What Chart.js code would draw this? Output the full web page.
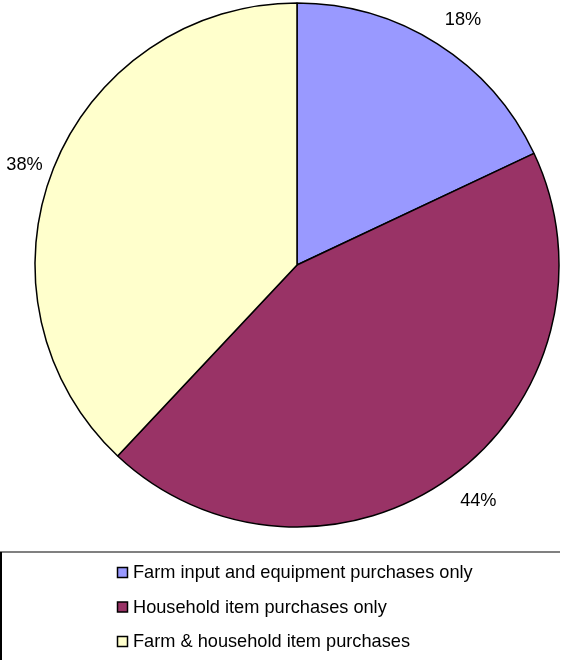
<!DOCTYPE html>
<html>
<head>
<meta charset="utf-8">
<script src="https://cdn.jsdelivr.net/npm/chart.js@4.4.0/dist/chart.umd.min.js"></script>
<style>
html,body{margin:0;padding:0;background:#fff;}
#wrap{position:relative;width:561px;height:660px;}
</style>
</head>
<body>
<div id="wrap"><canvas id="c" width="561" height="660"></canvas></div>
<script>
const categories = ["Farm input and equipment purchases only", "Household item purchases only", "Farm & household item purchases"];
const values = [18, 44, 38];
const percentLabels = ["18%", "44%", "38%"];
const colors = ["#9999FF", "#993366", "#FFFFCC"];

const FONT = '18.2px "Liberation Sans", Arial, sans-serif';

const labelPlugin = {
  id: 'sliceLabels',
  afterDatasetsDraw(chart) {
    const ctx = chart.ctx;
    const meta = chart.getDatasetMeta(0);
    ctx.save();
    ctx.font = FONT;
    ctx.fillStyle = '#000';
    ctx.textAlign = 'center';
    ctx.textBaseline = 'middle';
    meta.data.forEach((arc, i) => {
      const p = arc.getProps(['x','y','startAngle','endAngle','outerRadius'], true);
      const mid = (p.startAngle + p.endAngle) / 2;
      const dx = Math.cos(mid), dy = Math.sin(mid);
      const txt = percentLabels[i];
      const w = ctx.measureText(txt).width;
      const R = p.outerRadius + 35 * Math.abs(dy);
      const cx = p.x + dx * R + dx * w / 2;
      const cy = p.y + dy * R;
      ctx.fillText(txt, cx, cy + 1);
    });
    ctx.restore();
  }
};

const legendPlugin = {
  id: 'boxLegend',
  afterDraw(chart) {
    const ctx = chart.ctx;
    ctx.save();
    ctx.strokeStyle = '#808080';
    ctx.lineWidth = 2;
    ctx.beginPath();
    ctx.moveTo(0, 552);
    ctx.lineTo(560, 552);
    ctx.stroke();
    ctx.strokeStyle = '#000';
    ctx.lineWidth = 2;
    ctx.beginPath();
    ctx.moveTo(1, 552);
    ctx.lineTo(1, 660);
    ctx.stroke();
    ctx.font = FONT;
    ctx.textAlign = 'left';
    ctx.textBaseline = 'middle';
    categories.forEach((name, i) => {
      const yc = 572 + i * 34.5;
      ctx.fillStyle = colors[i];
      ctx.fillRect(117.5, yc - 4.5, 10, 10);
      ctx.strokeStyle = '#000';
      ctx.lineWidth = 1.5;
      ctx.strokeRect(117.5, yc - 4.5, 10, 10);
      ctx.fillStyle = '#000';
      ctx.fillText(name, 133, yc + 1);
    });
    ctx.restore();
  }
};

new Chart(document.getElementById('c'), {
  type: 'pie',
  data: {
    labels: categories,
    datasets: [{
      data: values,
      backgroundColor: colors,
      borderColor: '#000',
      borderWidth: 1.5,
      borderAlign: 'center'
    }]
  },
  options: {
    responsive: false,
    animation: false,
    radius: 262,
    layout: { padding: { left: 33, top: 3, right: 0, bottom: 133 } },
    plugins: {
      legend: { display: false },
      tooltip: { enabled: false }
    }
  },
  plugins: [labelPlugin, legendPlugin]
});
</script>
</body>
</html>
